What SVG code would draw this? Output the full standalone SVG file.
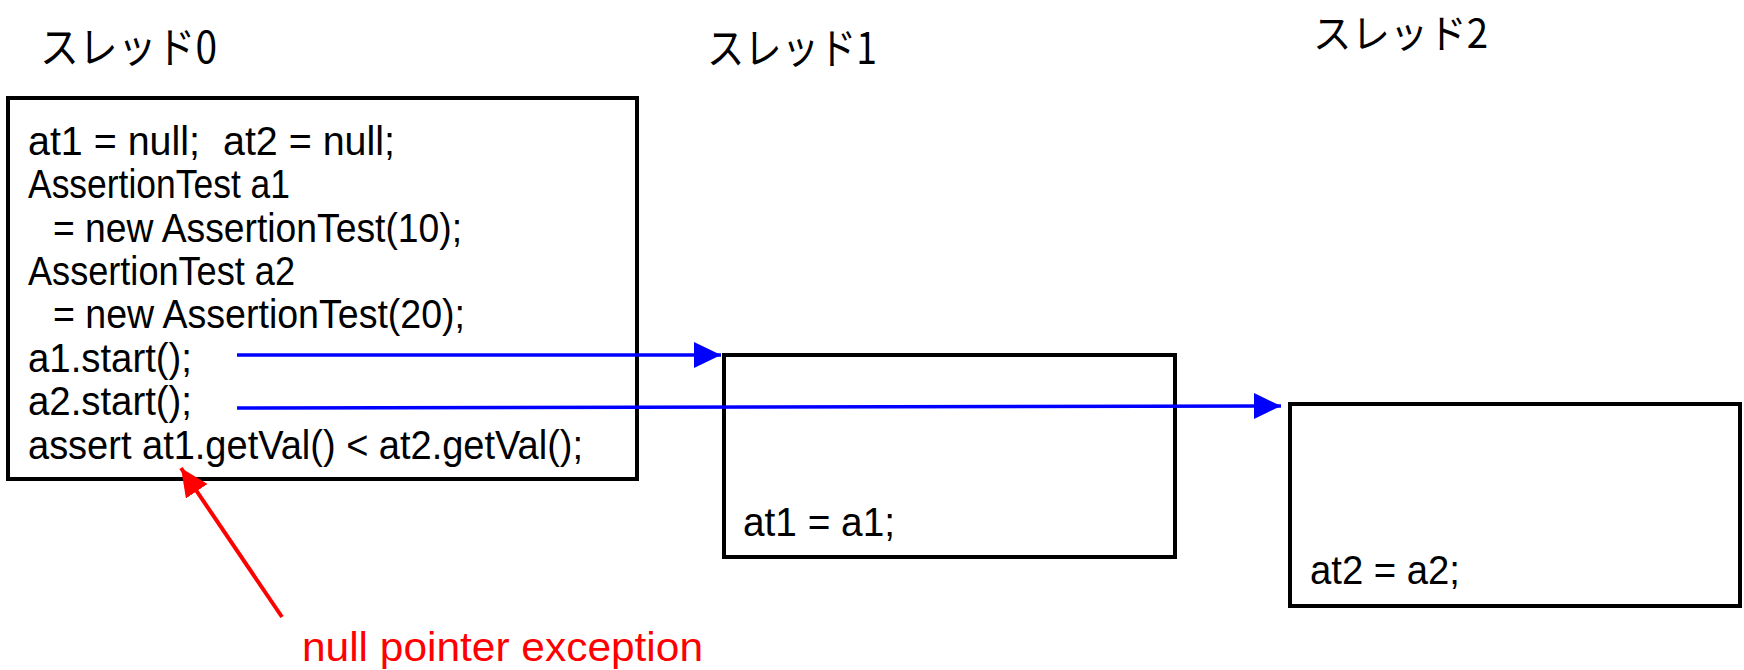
<svg xmlns="http://www.w3.org/2000/svg" width="1744" height="670" viewBox="0 0 1744 670">
<style>
.box{fill:#fff;stroke:#000;stroke-width:4}
.code{font-family:"Liberation Sans",Arial,sans-serif;font-size:40px;fill:#000}
.title{font-family:"Noto Sans CJK JP",sans-serif;font-size:43px;fill:#000}
.blue{stroke:#0000ff;stroke-width:3.5;fill:none}
.red{stroke:#ff0000;stroke-width:4;fill:none}
.note{font-family:"Liberation Sans",Arial,sans-serif;font-size:41px;fill:#ff0000}
</style>
<defs>
<marker id="ab" markerUnits="userSpaceOnUse" markerWidth="28" markerHeight="28" refX="27" refY="13" orient="auto">
<path d="M0,0 L27,13 L0,26 Z" fill="#0000ff"/>
</marker>
<marker id="ar" markerUnits="userSpaceOnUse" markerWidth="30" markerHeight="28" refX="28" refY="13" orient="auto">
<path d="M0,0 L28,13 L0,26 Z" fill="#ff0000"/>
</marker>
</defs>
<rect width="1744" height="670" fill="#fff"/>
<g id="thread0">
<text class="title" x="40" y="63" textLength="177" lengthAdjust="spacingAndGlyphs">スレッド0</text>
<rect class="box" x="8" y="98" width="629" height="381"/>
<text class="code" x="28" y="155" textLength="172" lengthAdjust="spacingAndGlyphs">at1 = null;</text>
<text class="code" x="223" y="155" textLength="172" lengthAdjust="spacingAndGlyphs">at2 = null;</text>
<text class="code" x="28" y="198" textLength="262" lengthAdjust="spacingAndGlyphs">AssertionTest a1</text>
<text class="code" x="53" y="242" textLength="409" lengthAdjust="spacingAndGlyphs">= new AssertionTest(10);</text>
<text class="code" x="28" y="285" textLength="267" lengthAdjust="spacingAndGlyphs">AssertionTest a2</text>
<text class="code" x="53" y="328" textLength="412" lengthAdjust="spacingAndGlyphs">= new AssertionTest(20);</text>
<text class="code" x="28" y="372" textLength="164" lengthAdjust="spacingAndGlyphs">a1.start();</text>
<text class="code" x="28" y="415" textLength="164" lengthAdjust="spacingAndGlyphs">a2.start();</text>
<text class="code" x="28" y="459" textLength="555" lengthAdjust="spacingAndGlyphs">assert at1.getVal() &lt; at2.getVal();</text>
</g>
<g id="thread1">
<text class="title" x="707" y="64" textLength="170" lengthAdjust="spacingAndGlyphs">スレッド1</text>
<rect class="box" x="724" y="355" width="451" height="202"/>
<text class="code" x="743" y="536" textLength="152" lengthAdjust="spacingAndGlyphs">at1 = a1;</text>
</g>
<g id="thread2">
<text class="title" x="1313" y="48" style="font-size:40px" textLength="175" lengthAdjust="spacingAndGlyphs">スレッド2</text>
<rect class="box" x="1290" y="404" width="450" height="202"/>
<text class="code" x="1310" y="584" textLength="150" lengthAdjust="spacingAndGlyphs">at2 = a2;</text>
</g>
<g id="note">
<text class="note" x="302" y="661" textLength="401" lengthAdjust="spacingAndGlyphs">null pointer exception</text>
</g>
<g id="connectors">
<line class="blue" x1="237" y1="355" x2="721" y2="355" marker-end="url(#ab)"/>
<line class="blue" x1="237" y1="408" x2="1281" y2="406" marker-end="url(#ab)"/>
<line class="red" x1="282" y1="617" x2="181" y2="468" marker-end="url(#ar)"/>
</g>
</svg>
